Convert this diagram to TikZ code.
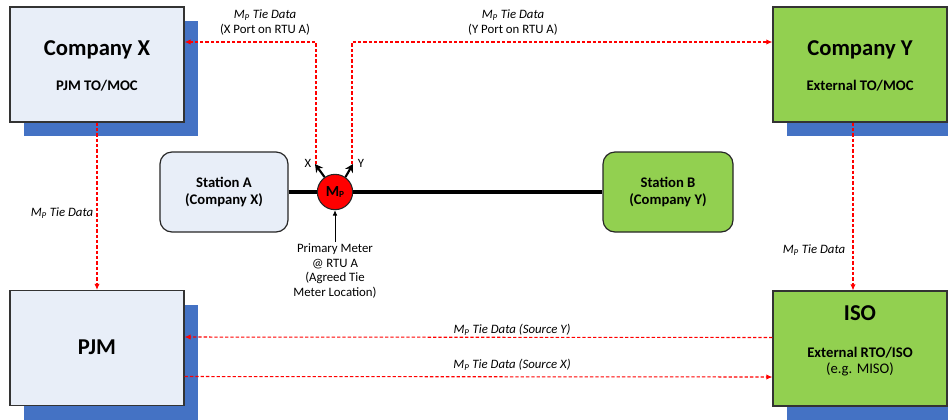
\documentclass[tikz,border=0pt]{standalone}
\usepackage{fontspec}
\setmainfont{Carlito}
\usetikzlibrary{arrows.meta,shadows}
\definecolor{boxblue}{HTML}{E8EEF8}
\definecolor{boxgreen}{HTML}{92D050}
\definecolor{shadowblue}{HTML}{4472C4}
\definecolor{linkred}{HTML}{FF0000}
\newcommand{\tiemp}{\textit{M\textsubscript{P}}}
\begin{document}
\begin{tikzpicture}[x=0.75pt, y=-0.75pt,
  orgbox/.style={draw=black!80, line width=0.9pt, minimum width=130.5pt, minimum height=86.25pt, inner sep=0pt,
    general shadow={fill=shadowblue, shadow xshift=10.5pt, shadow yshift=-10.5pt}},
  stationbox/.style={draw=black!85, line width=0.9pt, rounded corners=9pt, minimum width=96pt, minimum height=60pt,
    align=center, font=\fontsize{11}{12.75}\selectfont\bfseries},
  bigtxt/.style={anchor=base, inner sep=0pt, font=\fontsize{17}{20}\selectfont\bfseries},
  subtxt/.style={anchor=base, inner sep=0pt, font=\fontsize{11}{13}\selectfont\bfseries},
  tietxt/.style={anchor=base, inner sep=0pt, font=\fontsize{9.6}{11.25}\selectfont, align=center},
  tiedata/.style={draw=linkred, line width=0.8pt, dash pattern=on 2.5pt off 1.5pt, -{Latex[length=4.5pt,width=4pt]}},
  portarrow/.style={line width=1.6pt, -{Stealth[length=6pt,width=6.5pt]}}]
\useasboundingbox (0,0) rectangle (948,419);

% organisations
\node[orgbox, fill=boxblue] (compX) at (97,64.5) {};
\node[bigtxt] (compXname) at (97,55) {Company X};
\node[subtxt] (compXrole) at (97,90) {PJM TO/MOC};
\node[orgbox, fill=boxgreen] (compY) at (860,64.5) {};
\node[bigtxt] (compYname) at (860,55) {Company Y};
\node[subtxt] (compYrole) at (860,90) {External TO/MOC};
\node[orgbox, fill=boxblue] (pjm) at (97,348) {};
\node[bigtxt] (pjmname) at (97,354) {PJM};
\node[orgbox, fill=boxgreen] (iso) at (860,348.5) {};
\node[bigtxt] (isoname) at (860,320) {ISO};
\node[subtxt] (isorole) at (860,357) {External RTO/ISO};
\node[subtxt, font=\fontsize{11}{13}\selectfont] (isoeg) at (860,373) {(e.g. MISO)};

% stations and meter
\node[stationbox, fill=boxblue] (stationA) at (224,192) {Station A\\(Company X)};
\node[stationbox, fill=boxgreen, minimum width=97.5pt] (stationB) at (668,192) {Station B\\(Company Y)};
\node[circle, draw=black!85, line width=0.8pt, fill=linkred, minimum size=26.5pt, inner sep=0pt,
  font=\fontsize{11.5}{12}\selectfont\bfseries] (meter) at (335,192) {M{\fontsize{7}{7}\selectfont\raisebox{-0.35ex}{P}}};
\draw[line width=2.5pt] (stationA.east) -- (meter.west);
\draw[line width=2.5pt] (meter.east) -- (stationB.west);

% ports
\coordinate (portX) at (315,164);
\coordinate (portY) at (353,164);
\draw[portarrow] (meter.125) -- (portX);
\draw[portarrow] (meter.55) -- (portY);
\node[font=\fontsize{9.5}{11}\selectfont, anchor=base, inner sep=0pt] (portXlbl) at (308,167) {X};
\node[font=\fontsize{9.5}{11}\selectfont, anchor=base, inner sep=0pt] (portYlbl) at (361,167) {Y};

\node[anchor=north, align=center, inner sep=1pt, font=\fontsize{9.6}{11}\selectfont] (meterLbl) at (335,242)
  {Primary Meter\\@ RTU A\\(Agreed Tie\\Meter Location)};
\draw[line width=0.6pt, -{Latex[length=4pt,width=3.5pt]}] (meterLbl.north) -- (meter.south);

% tie data links
\coordinate (bendX) at (316,42);
\coordinate (bendY) at (352,42);
\draw[tiedata] (portX) ++(1,0) -- (bendX) -- (bendX -| compX.east);
\draw[tiedata] (portY) ++(-1,0) -- (bendY) -- (bendY -| compY.west);
\node[tietxt] (tieXlbl) at (265,33) {\tiemp{} \textit{Tie Data}\\(X Port on RTU A)};
\node[tietxt] (tieYlbl) at (513,33) {\tiemp{} \textit{Tie Data}\\(Y Port on RTU A)};

\draw[tiedata] (compX.south) -- (pjm.north);
\node[tietxt] (tieLeft) at (62,216) {\tiemp{} \textit{Tie Data}};
\draw[tiedata] ([xshift=-5.25pt]compY.south) -- ([xshift=-5.25pt]iso.north);
\node[tietxt] (tieRight) at (814,253) {\tiemp{} \textit{Tie Data}};

\draw[tiedata] ([yshift=8.25pt]iso.west) -- ([yshift=8.25pt]pjm.east);
\node[tietxt] (tieSrcY) at (512,333) {\tiemp{} \textit{Tie Data (Source Y)}};
\draw[tiedata] ([yshift=-21.375pt]pjm.east) -- ([yshift=-21.375pt]iso.west);
\node[tietxt] (tieSrcX) at (512,368) {\tiemp{} \textit{Tie Data (Source X)}};
\end{tikzpicture}
\end{document}
